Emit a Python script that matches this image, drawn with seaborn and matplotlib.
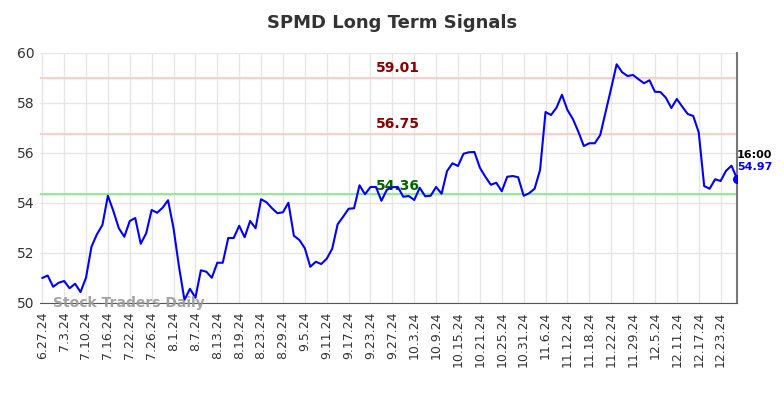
import matplotlib
matplotlib.use("Agg")
import matplotlib.pyplot as plt
import seaborn as sns
import pandas as pd

title = "SPMD Long Term Signals"
prices = [51.0, 51.1, 50.65, 50.81, 50.88, 50.59, 50.77, 50.44, 51.01, 52.25,
          52.75, 53.12, 54.29, 53.68, 52.99, 52.65, 53.28, 53.4, 52.37, 52.79,
          53.72, 53.61, 53.81, 54.11, 52.99, 51.45, 50.12, 50.57, 50.21, 51.31,
          51.25, 51.01, 51.61, 51.61, 52.6, 52.6, 53.09, 52.63, 53.28, 52.99,
          54.15, 54.03, 53.79, 53.59, 53.63, 54.01, 52.69, 52.52, 52.19, 51.45,
          51.65, 51.56, 51.77, 52.17, 53.15, 53.45, 53.77, 53.79, 54.71, 54.35,
          54.64, 54.64, 54.09, 54.53, 54.63, 54.64, 54.25, 54.28, 54.12, 54.61,
          54.27, 54.29, 54.64, 54.37, 55.28, 55.59, 55.48, 55.97, 56.03, 56.04,
          55.41, 55.05, 54.73, 54.81, 54.47, 55.05, 55.08, 55.03, 54.29, 54.39,
          54.57, 55.32, 57.64, 57.52, 57.81, 58.33, 57.72, 57.36, 56.85, 56.28,
          56.39, 56.39, 56.72, 57.65, 58.59, 59.55, 59.23, 59.08, 59.12, 58.95,
          58.79, 58.91, 58.45, 58.44, 58.21, 57.8, 58.16, 57.85, 57.56, 57.48,
          56.83, 54.68, 54.57, 54.95, 54.88, 55.29, 55.49, 54.97]
tick_labels = ["6.27.24", "7.3.24", "7.10.24", "7.16.24", "7.22.24", "7.26.24",
               "8.1.24", "8.7.24", "8.13.24", "8.19.24", "8.23.24", "8.29.24",
               "9.5.24", "9.11.24", "9.17.24", "9.23.24", "9.27.24", "10.3.24",
               "10.9.24", "10.15.24", "10.21.24", "10.25.24", "10.31.24", "11.6.24",
               "11.12.24", "11.18.24", "11.22.24", "11.29.24", "12.5.24", "12.11.24",
               "12.17.24", "12.23.24"]
resistance_levels = [59.01, 56.75]
support_level = 54.36
last_time = "16:00"

df = pd.DataFrame({"idx": range(len(prices)), "price": prices})

sns.set_style("white")
fig = plt.figure(figsize=(7.84, 3.98), dpi=100)
ax = fig.add_axes([39.5 / 784, 1 - 303 / 398, (737 - 39.5) / 784, 250 / 398])

ax.grid(True, color="#e6e6e6", linewidth=1)
ax.set_axisbelow(True)

for lv in resistance_levels:
    ax.axhline(lv, color="#ffcccc", linewidth=1.5, zorder=1)
    ax.text(65, lv + 0.12, f"{lv:.2f}", color="#8b0000", fontsize=10,
            fontweight="bold", ha="center", va="bottom")
ax.axhline(support_level, color="#90ee90", linewidth=1.5, zorder=1)
ax.text(65, support_level + 0.05, f"{support_level:.2f}", color="#006400",
        fontsize=10, fontweight="bold", ha="center", va="bottom")

sns.lineplot(data=df, x="idx", y="price", ax=ax, color="#0000ff", linewidth=1.5, zorder=3)
last_i = len(prices) - 1
ax.scatter([last_i], [prices[-1]], color="#0000ff", s=30, zorder=4)
ax.text(last_i, prices[-1] + 0.25, f"{prices[-1]:.2f}", color="#0000ff", fontsize=8,
        fontweight="bold", ha="left", va="bottom")
ax.text(last_i, prices[-1] + 0.75, last_time, color="black", fontsize=8,
        fontweight="bold", ha="left", va="bottom")

ax.text(0.02, 0.0, "Stock Traders Daily", transform=ax.transAxes, color="#999999",
        fontsize=10, fontweight="bold", ha="left", va="center", alpha=0.9)

ax.set_xlim(-0.5, last_i)
ax.set_ylim(50, 60)
ax.set_yticks([50, 52, 54, 56, 58, 60])
ax.set_xticks(range(0, 4 * len(tick_labels), 4))
ax.set_xticklabels(tick_labels, rotation=90, fontsize=9, color="#333333")
ax.tick_params(axis="y", labelsize=10, colors="#333333", length=0)
ax.tick_params(axis="x", length=0, pad=6)
ax.set_xlabel("")
ax.set_ylabel("")

for s in ["top", "left"]:
    ax.spines[s].set_visible(False)
ax.spines["bottom"].set_color("#555555")
ax.spines["right"].set_color("#777777")
ax.spines["right"].set_linewidth(1.5)

fig.suptitle(title, x=0.5, y=0.965, fontsize=13, fontweight="bold", color="#333333")

fig.savefig("out.png", dpi=100)
